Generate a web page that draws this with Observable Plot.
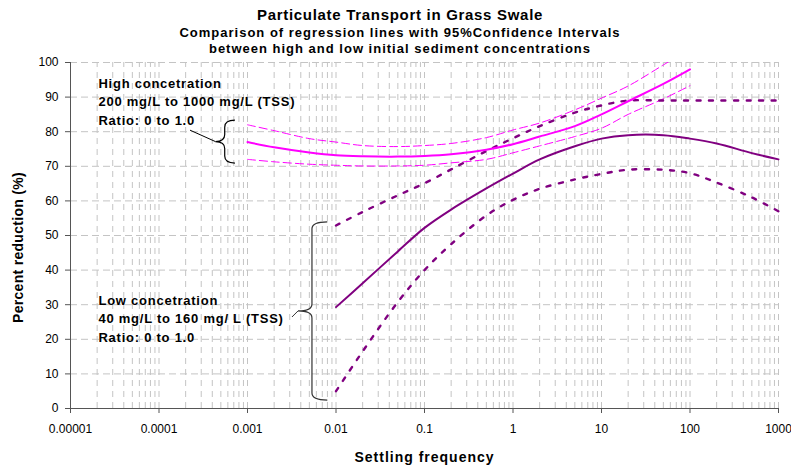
<!DOCTYPE html>
<html><head><meta charset="utf-8">
<script src="https://cdn.jsdelivr.net/npm/d3@7"></script>
<script src="https://cdn.jsdelivr.net/npm/@observablehq/plot@0.6"></script>
<style>
body{margin:0;background:#fff;font-family:"Liberation Sans",Arial,sans-serif;}
#hdr{position:relative;width:791px;height:56px;font-weight:bold;color:#000;}
#hdr div{position:absolute;left:0;width:800px;text-align:center;white-space:nowrap;}
</style></head><body>
<div id="hdr">
<div style="top:6px;font-size:15px;line-height:18px;letter-spacing:0.7px">Particulate Transport in Grass Swale</div>
<div style="top:25px;font-size:13px;line-height:16px;letter-spacing:1px">Comparison of regression lines with 95%Confidence Intervals</div>
<div style="top:41px;font-size:13px;line-height:16px;letter-spacing:1px">between high and low initial sediment concentrations</div>
</div>
<div id="chart"></div>
<script>
// ---- data ----
const xTicks = [1e-5, 1e-4, 1e-3, 1e-2, 1e-1, 1, 10, 100, 1000];
const xTickLabels = ["0.00001", "0.0001", "0.001", "0.01", "0.1", "1", "10", "100", "1000"];
const yTicks = [0, 10, 20, 30, 40, 50, 60, 70, 80, 90, 100];

const highX     = [0.001, 0.002, 0.005, 0.01, 0.02, 0.05, 0.1, 0.2, 0.5, 1, 2, 5, 10, 20, 50, 100];
const highMean  = [77, 75.5, 74, 73.2, 72.9, 72.8, 73, 73.5, 74.8, 76.4, 78.6, 81.6, 85.0, 88.8, 93.8, 98];
const highUpper = [82, 80.3, 78, 77, 76, 75.7, 76, 76.6, 78.3, 80.5, 82.5, 86.3, 89.7, 93.2, 99.3, 104];
const highLower = [72, 71.3, 70.6, 70.3, 70.1, 70.1, 70.3, 71, 72, 73.9, 75.9, 78.6, 81, 85, 89.5, 93.3];

const lowX     = [0.01, 0.02, 0.05, 0.1, 0.2, 0.5, 1, 2, 5, 10, 20, 50, 100, 200, 500, 1000];
const lowMean  = [29.3, 36.2, 45.4, 52.2, 57.5, 63.6, 67.9, 72, 75.8, 78, 79, 79, 78, 76.6, 73.8, 72];
const lowUpper = [52.9, 56.8, 61.6, 65.1, 69.1, 74.4, 78.1, 81.6, 85.5, 87.6, 89, 89, 89, 89, 89, 89];
const lowLower = [5, 16.5, 30.8, 40, 47.5, 55.8, 60.3, 63.5, 66.2, 67.8, 69, 69, 68, 65.3, 61, 57];

const annotations = [
  {label: "High concetration\n200 mg/L to 1000 mg/L (TSS)\nRatio: 0 to 1.0", x: 2.07e-5, y: 89.0},
  {label: "Low concetration\n40 mg/L to 160 mg/ L (TSS)\nRatio: 0 to 1.0", x: 2.07e-5, y: 26.3}
];
const braces = [
  {x: 0.00056, tipX: 0.00044, yTop: 83.2, yBottom: 70.8, fromX: 2.27e-4, fromY: 80.3, stroke: "#000"},
  {x: 0.00542, tipX: 0.00377, yTop: 53.8, yBottom: 2.3, fromX: 0.00322, fromY: 26.3, stroke: "#333"}
];

// ---- build ----
const gridX = [];
for (let i = 0; i < xTicks.length - 1; i++) for (let k = 1; k <= 9; k++) gridX.push(xTicks[i] * k);
gridX.push(xTicks[xTicks.length - 1]);

const pts = (xs, ys) => xs.map((x, i) => ({x, y: ys[i]}));
const MAG = "#ff00ff", PUR = "#800080";

const plot = Plot.plot({
  width: 791,
  height: 414,
  marginTop: 6,
  marginBottom: 62,
  marginLeft: 70,
  marginRight: 13,
  style: {fontFamily: '"Liberation Sans", Arial, sans-serif', fontSize: "12px", color: "#000", background: "#fff", overflow: "visible"},
  x: {type: "log", domain: [1e-5, 1000]},
  y: {domain: [0, 100]},
  marks: [
    Plot.ruleX(gridX, {y1: 0, y2: 100, stroke: "#c4c4c4", strokeDasharray: "6,5"}),
    Plot.ruleY(yTicks.filter(d => d > 0), {stroke: "#c4c4c4", strokeDasharray: "7,4"}),
    Plot.ruleY([0], {stroke: "#555"}),
    Plot.ruleX([1e-5], {stroke: "#555"}),
    Plot.axisX({ticks: xTicks, tickFormat: d => xTickLabels[xTicks.findIndex(t => Math.abs(t - d) / t < 1e-6)], tickSize: 5, tickPadding: 11, label: null, stroke: "#555"}),
    Plot.axisY({ticks: yTicks, tickSize: 5, tickPadding: 7, label: null, stroke: "#555"}),
    Plot.line(pts(highX, highUpper), {x: "x", y: "y", stroke: MAG, strokeWidth: 1, strokeDasharray: "8,4", curve: "catmull-rom", clip: true}),
    Plot.line(pts(highX, highLower), {x: "x", y: "y", stroke: MAG, strokeWidth: 1, strokeDasharray: "8,4", curve: "catmull-rom"}),
    Plot.line(pts(lowX, lowUpper), {x: "x", y: "y", stroke: PUR, strokeWidth: 2.4, strokeDasharray: "4,8.5", curve: "catmull-rom"}),
    Plot.line(pts(lowX, lowLower), {x: "x", y: "y", stroke: PUR, strokeWidth: 2.4, strokeDasharray: "4,8.5", curve: "catmull-rom"}),
    Plot.line(pts(lowX, lowMean), {x: "x", y: "y", stroke: PUR, strokeWidth: 2, curve: "catmull-rom"}),
    Plot.line(pts(highX, highMean), {x: "x", y: "y", stroke: MAG, strokeWidth: 2, curve: "catmull-rom"}),
    Plot.text(annotations, {x: "x", y: "y", text: "label", textAnchor: "start", lineAnchor: "middle", lineHeight: 1.41, fontWeight: "bold", fontSize: 13, fill: "#000"}),
    Plot.text(["Settling frequency"], {frameAnchor: "bottom", lineAnchor: "middle", textAnchor: "middle", dy: 49, fontWeight: "bold", fontSize: 14, fill: "#000"}),
    Plot.text(["Percent reduction (%)"], {frameAnchor: "left", textAnchor: "middle", lineAnchor: "middle", rotate: -90, dx: -52, dy: 12, fontWeight: "bold", fontSize: 14, fill: "#000"})
  ]
});
document.getElementById("chart").appendChild(plot);

// letter spacing to match the reference's wider text rendering
const svg = d3.select(plot);
svg.selectAll("text").each(function () {
  const t = this.textContent;
  if (t.startsWith("Settling")) this.style.letterSpacing = "1px";
  else if (t.startsWith("Percent")) this.style.letterSpacing = "0.3px";
  else if (/concetration|mg\/|Ratio/.test(t)) this.style.letterSpacing = "0.75px";
});

// braces drawn with the plot's own scales
const sx = plot.scale("x"), sy = plot.scale("y");
const X = d3.scaleLog().domain(sx.domain).range(sx.range);
const Y = d3.scaleLinear().domain(sy.domain).range(sy.range);
for (const b of braces) {
  const x = X(b.x), tip = X(b.tipX), t = Y(b.yTop), bt = Y(b.yBottom), m = (t + bt) / 2;
  const e = x + (x - tip) * 1.1, r = 7;
  svg.append("path")
    .attr("d", `M${e},${t} Q${x},${t} ${x},${t + r} L${x},${m - r} Q${x},${m} ${tip},${m} Q${x},${m} ${x},${m + r} L${x},${bt - r} Q${x},${bt} ${e},${bt}`)
    .attr("fill", "none").attr("stroke", b.stroke).attr("stroke-width", 1.2);
  svg.append("line")
    .attr("x1", X(b.fromX)).attr("y1", Y(b.fromY)).attr("x2", tip).attr("y2", m)
    .attr("stroke", b.stroke).attr("stroke-width", 1);
}
</script>
</body></html>
